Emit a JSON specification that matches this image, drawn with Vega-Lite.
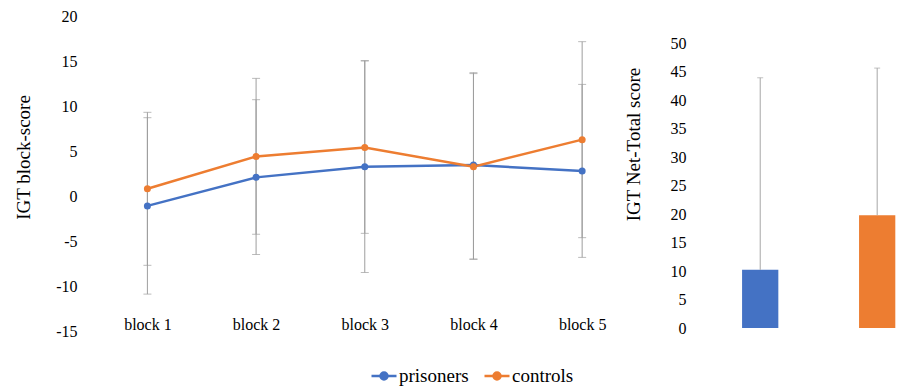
{
  "$schema": "https://vega.github.io/schema/vega-lite/v6.json",
  "padding": {"left": 14, "top": 8, "right": 0, "bottom": 0},
  "background": "white",
  "config": {
    "view": {"stroke": null},
    "font": "Liberation Serif",
    "axis": {
      "labelFont": "Liberation Serif",
      "titleFont": "Liberation Serif",
      "labelColor": "#000000",
      "titleColor": "#000000",
      "grid": false,
      "domain": false,
      "ticks": false,
      "tickSize": 0,
      "labelFontSize": 16,
      "titleFontSize": 19,
      "titleFontWeight": "normal",
      "labelOverlap": false
    },
    "legend": {"labelFont": "Liberation Serif", "labelFontSize": 19, "labelColor": "#000000"}
  },
  "datasets": {
    "blocks": [
      {"block": "block 1", "group": "prisoners", "mean": -1.1, "lo": -10.9, "hi": 8.7},
      {"block": "block 1", "group": "controls", "mean": 0.8, "lo": -7.7, "hi": 9.3},
      {"block": "block 2", "group": "prisoners", "mean": 2.07, "lo": -6.5, "hi": 10.7},
      {"block": "block 2", "group": "controls", "mean": 4.4, "lo": -4.25, "hi": 13.07},
      {"block": "block 3", "group": "prisoners", "mean": 3.26, "lo": -8.5, "hi": 15.0},
      {"block": "block 3", "group": "controls", "mean": 5.4, "lo": -4.15, "hi": 15.05},
      {"block": "block 4", "group": "prisoners", "mean": 3.44, "lo": -7.04, "hi": 13.7},
      {"block": "block 4", "group": "controls", "mean": 3.26, "lo": -7.0, "hi": 13.6},
      {"block": "block 5", "group": "prisoners", "mean": 2.78, "lo": -6.82, "hi": 12.4},
      {"block": "block 5", "group": "controls", "mean": 6.26, "lo": -4.63, "hi": 17.15}
    ],
    "totals": [
      {"group": "prisoners", "mean": 10.2, "hi": 43.9},
      {"group": "controls", "mean": 19.8, "hi": 45.6}
    ]
  },
  "spacing": 18,
  "resolve": {"scale": {"color": "independent"}, "legend": {"color": "independent"}},
  "hconcat": [
    {
      "width": 508,
      "height": 315,
      "data": {"name": "blocks"},
      "encoding": {
        "x": {
          "field": "block",
          "type": "ordinal",
          "scale": {"type": "point", "padding": 0.337, "align": 0.77},
          "axis": {"title": null, "labelAngle": 0, "labelPadding": -15, "labelBaseline": "top", "labelFont": "Liberation Serif"}
        }
      },
      "layer": [
        {
          "mark": {"type": "rule", "color": "#9e9e9e", "strokeWidth": 1},
          "encoding": {
            "y": {
              "field": "lo",
              "type": "quantitative",
              "title": "IGT block-score",
              "scale": {"domain": [-15, 20], "nice": false, "zero": false},
              "axis": {"values": [-15, -10, -5, 0, 5, 10, 15, 20], "labelExpr": "'' + datum.value", "labelFont": "Liberation Serif", "labelOverlap": false, "labelPadding": 14, "titlePadding": 22, "titleY": 141}
            },
            "y2": {"field": "hi"},
            "detail": {"field": "group"}
          }
        },
        {
          "mark": {"type": "tick", "color": "#9e9e9e", "size": 8, "thickness": 1},
          "encoding": {"y": {"field": "lo", "type": "quantitative", "title": "IGT block-score",
            "axis": {"values": [-15, -10, -5, 0, 5, 10, 15, 20], "labelExpr": "'' + datum.value", "labelFont": "Liberation Serif", "labelOverlap": false, "labelPadding": 14, "titlePadding": 22, "titleY": 141}}}
        },
        {
          "mark": {"type": "tick", "color": "#9e9e9e", "size": 8, "thickness": 1},
          "encoding": {"y": {"field": "hi", "type": "quantitative", "title": "IGT block-score",
            "axis": {"values": [-15, -10, -5, 0, 5, 10, 15, 20], "labelExpr": "'' + datum.value", "labelFont": "Liberation Serif", "labelOverlap": false, "labelPadding": 14, "titlePadding": 22, "titleY": 141}}}
        },
        {
          "mark": {"type": "line", "strokeWidth": 2.5, "point": {"filled": true, "size": 49}},
          "encoding": {
            "y": {"field": "mean", "type": "quantitative", "title": "IGT block-score",
              "axis": {"values": [-15, -10, -5, 0, 5, 10, 15, 20], "labelExpr": "'' + datum.value", "labelFont": "Liberation Serif", "labelOverlap": false, "labelPadding": 14, "titlePadding": 22, "titleY": 141}},
            "color": {
              "field": "group",
              "type": "nominal",
              "scale": {"domain": ["prisoners", "controls"], "range": ["#4472C4", "#ED7D31"]},
              "legend": {
                "title": null,
                "orient": "none",
                "legendX": 279,
                "legendY": 346,
                "direction": "horizontal",
                "labelFont": "Liberation Serif",
                "labelFontSize": 19,
                "labelColor": "#000000",
                "symbolType": "M-1,0L1,0M-0.28,0A0.28,0.28,0,1,1,0.28,0A0.28,0.28,0,1,1,-0.28,0Z",
                "symbolSize": 625,
                "symbolStrokeWidth": 2.5,
                "columnPadding": 10,
                "labelOffset": 1
              }
            }
          }
        }
      ]
    },
    {
      "width": 215,
      "height": 312,
      "data": {"name": "totals"},
      "encoding": {
        "x": {
          "field": "group",
          "type": "nominal",
          "sort": ["prisoners", "controls"],
          "scale": {"paddingInner": 0.69, "paddingOuter": 0.264, "align": 0.665},
          "axis": null
        }
      },
      "layer": [
        {
          "mark": {"type": "bar"},
          "encoding": {
            "y": {
              "field": "mean",
              "type": "quantitative",
              "title": "IGT Net-Total score",
              "scale": {"domain": [0, 54.737], "nice": false},
              "axis": {"values": [0, 5, 10, 15, 20, 25, 30, 35, 40, 45, 50], "labelExpr": "'' + datum.value", "labelOverlap": false, "labelFont": "Liberation Serif", "labelPadding": 15, "titlePadding": 27, "titleY": 128}
            },
            "color": {
              "field": "group",
              "type": "nominal",
              "scale": {"domain": ["prisoners", "controls"], "range": ["#4472C4", "#ED7D31"]},
              "legend": null
            }
          }
        },
        {
          "mark": {"type": "rule", "color": "#a6a6a6", "strokeWidth": 1},
          "encoding": {
            "y": {"field": "mean", "type": "quantitative", "title": "IGT Net-Total score",
              "axis": {"values": [0, 5, 10, 15, 20, 25, 30, 35, 40, 45, 50], "labelExpr": "'' + datum.value", "labelOverlap": false, "labelFont": "Liberation Serif", "labelPadding": 15, "titlePadding": 27, "titleY": 128}},
            "y2": {"field": "hi"}
          }
        },
        {
          "mark": {"type": "tick", "color": "#a6a6a6", "size": 6, "thickness": 1},
          "encoding": {"y": {"field": "hi", "type": "quantitative", "title": "IGT Net-Total score",
            "axis": {"values": [0, 5, 10, 15, 20, 25, 30, 35, 40, 45, 50], "labelExpr": "'' + datum.value", "labelOverlap": false, "labelFont": "Liberation Serif", "labelPadding": 15, "titlePadding": 27, "titleY": 128}}}
        }
      ]
    }
  ]
}
